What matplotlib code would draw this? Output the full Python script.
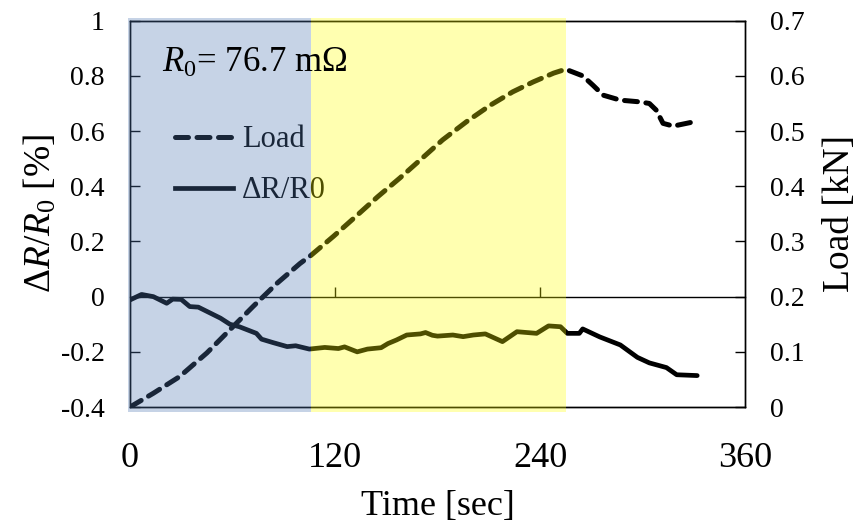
import matplotlib
matplotlib.use("Agg")
import matplotlib.pyplot as plt
from matplotlib.lines import Line2D

plt.rcParams['font.family'] = ['Liberation Serif', 'DejaVu Serif']
plt.rcParams['mathtext.fontset'] = 'custom'
plt.rcParams['mathtext.rm'] = 'Liberation Serif'
plt.rcParams['mathtext.it'] = 'Liberation Serif:italic'

# Load [kN] vs time [sec]
t_load = [0, 13.7, 29, 45, 58.5, 72, 86, 99.5, 106, 119, 131, 145, 158, 170, 183, 197, 211,
          224, 236, 248, 255, 265, 271, 277, 287, 298, 304, 308, 312, 318, 332]
load = [0.0, 0.025, 0.055, 0.098, 0.140, 0.182, 0.224, 0.260, 0.275, 0.309, 0.342, 0.381,
        0.415, 0.448, 0.484, 0.517, 0.547, 0.571, 0.589, 0.605, 0.612,
        0.600, 0.583, 0.565, 0.556, 0.553, 0.550, 0.538, 0.514, 0.509, 0.518]

# dR/R0 [%] vs time [sec]
t_dr = [0, 6.8, 13.7, 21.5, 25, 30, 35, 40, 53, 58.5, 64, 74, 77, 84, 92, 97, 105, 114, 122,
        125.6, 133, 139, 147, 151, 156, 162, 170, 173, 177, 180, 189, 195, 201, 208, 218,
        226.5, 238, 245, 252, 256, 263, 265, 275, 287, 297, 304, 314, 320, 332]
dr = [-0.012, 0.008, 0.0, -0.024, -0.009, -0.010, -0.036, -0.038, -0.078, -0.100, -0.109,
      -0.133, -0.154, -0.167, -0.181, -0.178, -0.190, -0.184, -0.188, -0.182, -0.200, -0.190,
      -0.185, -0.170, -0.157, -0.139, -0.135, -0.130, -0.140, -0.143, -0.139, -0.145, -0.139,
      -0.135, -0.163, -0.127, -0.133, -0.106, -0.109, -0.133, -0.133, -0.117, -0.146, -0.175,
      -0.220, -0.240, -0.257, -0.283, -0.286]

# shaded phases
phase_edges = [-1, 106, 255]
phase_colors = [(0.31, 0.47, 0.70), (1.0, 1.0, 0.0)]
phase_alpha = [0.32, 0.31]

fig = plt.figure(figsize=(8.63, 5.30), dpi=100)
ax = fig.add_axes([0.1506, 0.232, 0.7127, 0.729])
ax2 = ax.twinx()

dash = (0, (2.6, 1.7))
ax.plot(t_dr, dr, color='black', lw=3.4, solid_joinstyle='round', solid_capstyle='round')
ax2.plot(t_load, load, color='black', lw=3.6, linestyle=dash, dash_capstyle='round')

ax.set_xlim(0, 360)
ax.set_ylim(-0.4, 1.0)
ax2.set_ylim(0, 0.7)

ax.set_xticks([0, 120, 240, 360])
ax.set_yticks([-0.4, -0.2, 0, 0.2, 0.4, 0.6, 0.8, 1.0])
ax.set_yticklabels(['-0.4', '-0.2', '0', '0.2', '0.4', '0.6', '0.8', '1'])
ax2.set_yticks([0, 0.1, 0.2, 0.3, 0.4, 0.5, 0.6, 0.7])
ax2.set_yticklabels(['0', '0.1', '0.2', '0.3', '0.4', '0.5', '0.6', '0.7'])

ax.tick_params(axis='x', length=0, pad=25, labelsize=26)
ax.tick_params(axis='y', direction='in', length=7, width=1, pad=18, labelsize=20)
ax2.tick_params(axis='y', direction='in', length=7, width=1, pad=18, labelsize=20)

# zero line with upward ticks
sec = ax.secondary_xaxis(0.4 / 1.4)
sec.set_xticks([120, 240])
sec.tick_params(direction='in', length=7, width=1, labelbottom=False)
sec.spines['bottom'].set_linewidth(1)

for s in list(ax.spines.values()) + list(ax2.spines.values()):
    s.set_linewidth(1)

ax.set_xlabel('Time [sec]', fontsize=26, labelpad=11)
ax.set_ylabel(r'$\mathit{ΔR/R}_0$ [%]', fontsize=27, labelpad=2)
ax2.set_ylabel('Load [kN]', fontsize=27, labelpad=13)

handles = [Line2D([], [], color='black', lw=3.6, linestyle=dash, dash_capstyle='round'),
           Line2D([], [], color='black', lw=3.4)]
leg = ax2.legend(handles, ['Load', 'ΔR/R0'], loc='upper left', bbox_to_anchor=(0.028, 0.80),
                 frameon=False, fontsize=22, handlelength=1.9, handletextpad=0.3,
                 labelspacing=0.72)
leg.set_zorder(3)

for i in range(2):
    ax2.axvspan(phase_edges[i], phase_edges[i + 1], ymin=-0.012, ymax=1.006,
                color=phase_colors[i], alpha=phase_alpha[i], lw=0, zorder=4, clip_on=False)

ax2.text(0.052, 0.89, r'$\mathit{R}_0$= 76.7 mΩ', transform=ax2.transAxes,
         fontsize=25, va='center', ha='left', zorder=6)

fig.savefig('out.png', dpi=100)
